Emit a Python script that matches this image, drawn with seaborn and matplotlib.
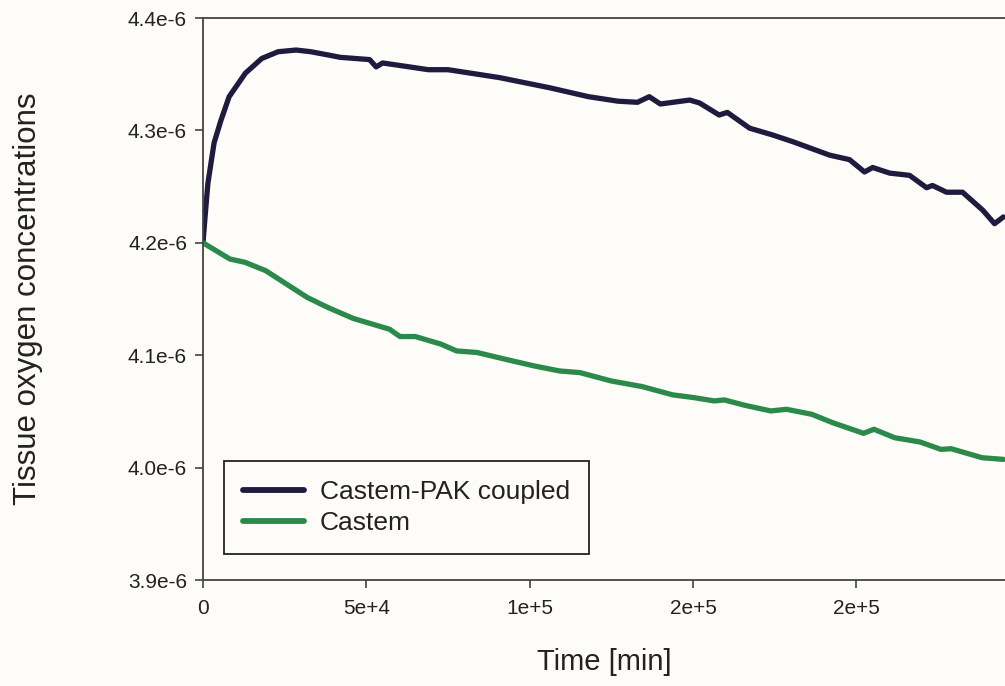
import numpy as np
import pandas as pd
import matplotlib
matplotlib.use("Agg")
import matplotlib.pyplot as plt
import seaborn as sns
from matplotlib.ticker import FixedLocator, FixedFormatter

# ---- data (time in min, concentration in 1e-6) ----
t_coupled = [0, 600, 1500, 3400, 5500, 8000, 13000, 18000, 23000, 28500,
             33000, 38500, 42000, 51000, 53000, 55000, 69000, 75000, 90700,
             106000, 118000, 127000, 133000, 136600, 140000, 149000, 152000,
             158000, 160500, 167300, 174300, 180500, 191800, 197900, 202500,
             205000, 210200, 216300, 221500, 223300, 227600, 232500, 238700,
             242300, 245000]
v_coupled = [4.200, 4.222, 4.253, 4.289, 4.309, 4.330, 4.351, 4.364, 4.370, 4.3715,
             4.370, 4.367, 4.365, 4.363, 4.3565, 4.360, 4.354, 4.354, 4.347,
             4.338, 4.330, 4.326, 4.325, 4.330, 4.3235, 4.327, 4.3244,
             4.3137, 4.316, 4.302, 4.296, 4.290, 4.278, 4.274, 4.263,
             4.267, 4.262, 4.260, 4.249, 4.251, 4.245, 4.245, 4.229,
             4.217, 4.223]

t_castem = [0, 8200, 12900, 19200, 31900, 38200, 46000, 57100, 60300, 65000,
            72900, 77600, 83900, 93400, 101300, 109100, 115400, 124900,
            134400, 143800, 150200, 156500, 159600, 165900, 173800, 178600,
            186400, 192700, 202200, 205400, 211700, 219500, 225900, 229000,
            238500, 245000]
v_castem = [4.2000, 4.1856, 4.1826, 4.1752, 4.1514, 4.1425, 4.1327, 4.1231, 4.1166, 4.1166,
            4.1098, 4.1038, 4.1024, 4.0958, 4.0905, 4.0860, 4.0845, 4.0771,
            4.0721, 4.0647, 4.0623, 4.0593, 4.0602, 4.0554, 4.0504, 4.0519,
            4.0474, 4.0400, 4.0305, 4.0341, 4.0266, 4.0228, 4.0162, 4.0168,
            4.0088, 4.0073]

series_names = ["Castem-PAK coupled", "Castem"]
series_colors = ["#1e1b3e", "#2b8a4a"]

xtick_vals = [0, 50000, 100000, 150000, 200000]
xtick_labels = ["0", "5e+4", "1e+5", "2e+5", "2e+5"]
ytick_vals = [3.9e-6, 4.0e-6, 4.1e-6, 4.2e-6, 4.3e-6, 4.4e-6]
ytick_labels = ["3.9e-6", "4.0e-6", "4.1e-6", "4.2e-6", "4.3e-6", "4.4e-6"]

df = pd.concat([
    pd.DataFrame({"Time": t_coupled, "Value": np.array(v_coupled) * 1e-6,
                  "Model": series_names[0]}),
    pd.DataFrame({"Time": t_castem, "Value": np.array(v_castem) * 1e-6,
                  "Model": series_names[1]}),
], ignore_index=True)

sns.set_theme(style="white")
plt.rcParams["font.family"] = ["Liberation Sans", "DejaVu Sans"]

bg = "#fdfcf9"
txt = "#222222"
fig = plt.figure(figsize=(10.05, 6.86), dpi=100, facecolor=bg)
ax = fig.add_axes([203 / 1005, 1 - 580 / 686, 1 - 203 / 1005, (580 - 18) / 686])
ax.set_facecolor(bg)

sns.lineplot(data=df, x="Time", y="Value", hue="Model", hue_order=series_names,
             palette=series_colors, linewidth=3.8, ax=ax, estimator=None,
             sort=False)

ax.set_xlim(0, 245500)
ax.set_ylim(3.9e-6, 4.4e-6)
ax.xaxis.set_major_locator(FixedLocator(xtick_vals))
ax.xaxis.set_major_formatter(FixedFormatter(xtick_labels))
ax.yaxis.set_major_locator(FixedLocator(ytick_vals))
ax.yaxis.set_major_formatter(FixedFormatter(ytick_labels))

for side in ["left", "bottom", "top"]:
    ax.spines[side].set_visible(True)
    ax.spines[side].set_color("#444444")
    ax.spines[side].set_linewidth(1.3)
ax.spines["right"].set_visible(False)

ax.tick_params(axis="both", direction="out", length=5.5, width=1.2,
               color="#444444", labelsize=15, labelcolor=txt,
               left=True, bottom=True)
ax.tick_params(axis="y", pad=6)
ax.tick_params(axis="x", pad=8)

ax.set_xlabel("Time [min]", fontsize=21, color=txt)
ax.set_ylabel("Tissue oxygen concentrations", fontsize=22.5, color=txt)
ax.xaxis.label.set_va("center")
ax.xaxis.set_label_coords(0.5, (580 - 662) / 562)
ax.yaxis.set_label_coords((43 - 203) / 801, 0.5)

leg = ax.legend(loc="lower left", bbox_to_anchor=(21 / 801, 26 / 562),
                borderaxespad=0, fontsize=19, frameon=True, fancybox=False,
                handlelength=2.3, handletextpad=0.6, labelspacing=0.25,
                borderpad=0.72)
leg.get_frame().set_edgecolor("#222222")
leg.get_frame().set_linewidth(1.3)
leg.get_frame().set_facecolor(bg)
leg.get_frame().set_alpha(1)
for t in leg.get_texts():
    t.set_color(txt)
for h in leg.get_lines():
    h.set_linewidth(4.2)

fig.savefig("out.png", dpi=100, facecolor=bg)
